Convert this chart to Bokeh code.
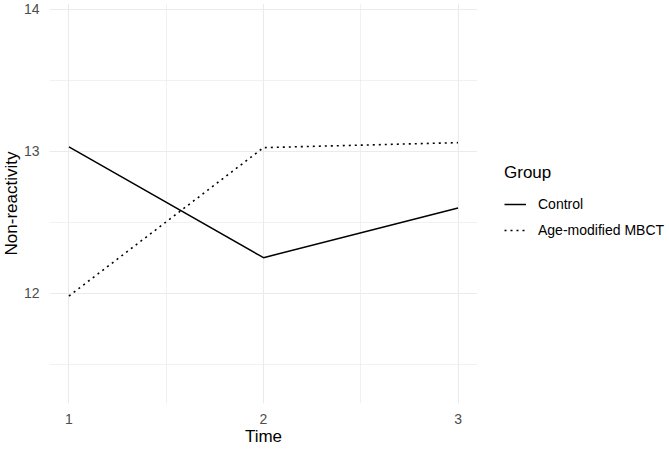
from bokeh.plotting import figure
from bokeh.models import Range1d, Legend, LegendItem, FixedTicker
from bokeh.layouts import row
from bokeh.embed import file_html
from bokeh.resources import INLINE

time = [1, 2, 3]
control = [13.03, 12.25, 12.60]
mbct = [11.98, 13.025, 13.06]
group_labels = ["Control", "Age-modified MBCT"]
x_ticks = [1, 2, 3]
x_minor = [1.5, 2.5]
y_ticks = [12, 13, 14]
y_minor = [11.5, 12.5, 13.5]

FONT = "Liberation Sans"
GRID = "#EBEBEB"
H = 448

p = figure(width=479, height=H, output_backend="svg", toolbar_location=None,
           x_range=Range1d(0.9, 3.1), y_range=Range1d(11.223, 14.04),
           min_border_top=3, min_border_bottom=0, min_border_left=0,
           min_border_right=0)
p.margin = (0, 0, 0, -2)
p.outline_line_color = None
p.background_fill_color = "white"

p.line(time, control, line_color="black", line_width=1.5)
p.line(time, mbct, line_color="black", line_width=1.6, line_dash="2 4")

p.xaxis.ticker = FixedTicker(ticks=x_ticks, minor_ticks=x_minor)
p.yaxis.ticker = FixedTicker(ticks=y_ticks, minor_ticks=y_minor)

for ax in (p.xaxis[0], p.yaxis[0]):
    ax.axis_line_color = None
    ax.major_tick_line_color = None
    ax.minor_tick_line_color = None
    ax.major_tick_out = 0
    ax.minor_tick_out = 0
    ax.major_label_text_font = FONT
    ax.major_label_text_font_size = "14px"
    ax.major_label_text_color = "#4D4D4D"
    ax.axis_label_text_font = FONT
    ax.axis_label_text_font_size = "17px"
    ax.axis_label_text_font_style = "normal"
    ax.axis_label_text_color = "black"

p.xaxis.axis_label = "Time"
p.yaxis.axis_label = "Non-reactivity"
p.xaxis.major_label_standoff = 10
p.xaxis.axis_label_standoff = 0
p.yaxis.major_label_standoff = 10
p.yaxis.axis_label_standoff = 0

for g in (p.xgrid[0], p.ygrid[0]):
    g.grid_line_color = GRID
    g.grid_line_width = 1.1
    g.minor_grid_line_color = GRID
    g.minor_grid_line_width = 0.7

# Legend panel: a separate blank figure whose view range excludes the data,
# so the key sits outside the plotting panel as in ggplot.
lf = figure(width=188, height=H, output_backend="svg", toolbar_location=None,
            x_range=Range1d(0, 0.5), y_range=Range1d(0, 1),
            min_border_top=0, min_border_bottom=0, min_border_left=0,
            min_border_right=0)
lf.axis.visible = False
lf.grid.visible = False
lf.outline_line_color = None
k1 = lf.line(time, control, line_color="black", line_width=1.5)
k2 = lf.line(time, mbct, line_color="black", line_width=1.6, line_dash="2 4")

legend = Legend(items=[LegendItem(label=group_labels[0], renderers=[k1]),
                       LegendItem(label=group_labels[1], renderers=[k2])],
                location=(27, 163))
legend.title = "Group"
legend.title_text_font = FONT
legend.title_text_font_size = "17px"
legend.title_text_font_style = "normal"
legend.title_text_color = "black"
legend.title_standoff = 11
legend.label_text_font = FONT
legend.label_text_font_size = "14px"
legend.label_text_color = "black"
legend.glyph_width = 22
legend.glyph_height = 20
legend.label_height = 20
legend.label_standoff = 12
legend.spacing = 6
legend.padding = 0
legend.margin = 0
legend.border_line_color = None
legend.background_fill_alpha = 0
lf.add_layout(legend, "center")

layout = row(p, lf)
open("out.html", "w").write(file_html(layout, INLINE))
